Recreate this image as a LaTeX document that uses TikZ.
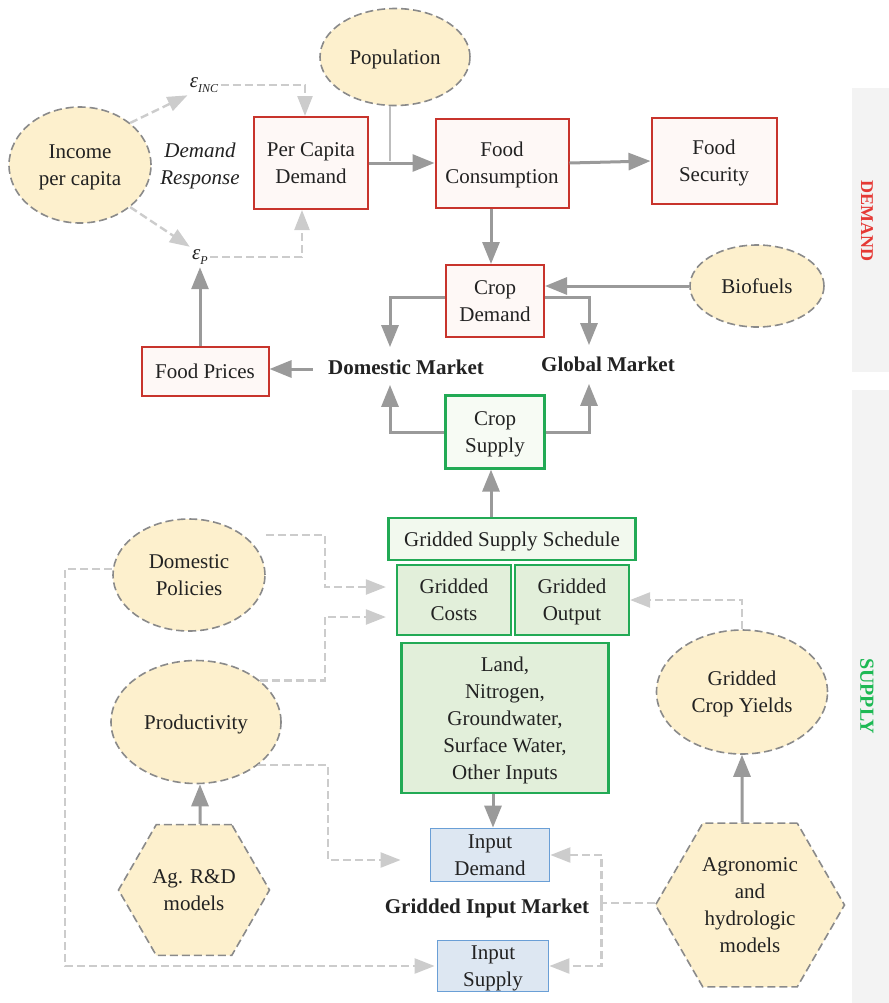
\documentclass[tikz,border=0pt]{standalone}
\usepackage{fontspec}
\setmainfont{Liberation Serif}
\usetikzlibrary{shapes.geometric,arrows.meta,calc}
\definecolor{cream}{HTML}{FDF0CD}
\definecolor{dashgray}{HTML}{8A8A8A}
\definecolor{boxred}{HTML}{C8342C}
\definecolor{redfill}{HTML}{FEF8F6}
\definecolor{boxgreen}{HTML}{22AA55}
\definecolor{gfillA}{HTML}{F7FBF4}
\definecolor{gfillB}{HTML}{F2F9EE}
\definecolor{gfillC}{HTML}{E2EFDA}
\definecolor{boxblue}{HTML}{6A9FD6}
\definecolor{bluefill}{HTML}{DDE7F2}
\definecolor{darkarr}{HTML}{9A9A9A}
\definecolor{lightarr}{HTML}{CCCCCC}
\definecolor{panelgray}{HTML}{F3F3F3}
\definecolor{demred}{HTML}{E53935}
\definecolor{supgreen}{HTML}{1DB954}
\definecolor{txt}{HTML}{222222}
\tikzset{
  lowtext/.style={text depth=-1pt},
  ell/.style={ellipse, draw=dashgray, dash pattern=on 4pt off 2pt, fill=cream, line width=0.8pt, inner sep=0pt, align=center, lowtext},
  hexa/.style={regular polygon, regular polygon sides=6, draw=dashgray, dash pattern=on 4pt off 2pt, fill=cream, line width=0.8pt, inner sep=0pt, align=center, lowtext},
  redbox/.style={rectangle, draw=boxred, fill=redfill, line width=1pt, inner sep=0pt, align=center, lowtext},
  greenbox/.style={rectangle, draw=boxgreen, line width=1.1pt, inner sep=0pt, align=center, lowtext},
  bluebox/.style={rectangle, draw=boxblue, fill=bluefill, line width=0.9pt, inner sep=0pt, align=center, lowtext},
  lbl/.style={inner sep=1pt, text height=7.5pt, text depth=2pt},
  darr/.style={draw=darkarr, line width=1.5pt, -{Triangle[length=11pt,width=8.5pt]}},
  larr/.style={draw=lightarr, line width=1.2pt, dash pattern=on 4pt off 2pt, -{Triangle[length=10pt,width=7.5pt]}},
  lline/.style={draw=lightarr, line width=1.2pt, dash pattern=on 4pt off 2pt},
  popline/.style={draw=lightarr!80!gray, line width=0.8pt},
}
\begin{document}
\begin{tikzpicture}[x=0.5pt,y=-0.5pt, font=\fontsize{10.5}{13.5}\selectfont, text=txt]
\useasboundingbox (0,0) rectangle (889,1003);
% side panels
\fill[panelgray] (852,88) rectangle (889,372);
\fill[panelgray] (852,390) rectangle (889,1003);
\node[rotate=-90, font=\bfseries\fontsize{9}{9}\selectfont, text=demred] (demlab) at (867,221) {DEMAND};
\node[rotate=-90, font=\bfseries\fontsize{10}{10}\selectfont, text=supgreen] (suplab) at (867,696) {SUPPLY};

% demand side nodes
\node[ell, minimum width=71pt, minimum height=58pt] (Inc) at (80,165) {Income\\per capita};
\node[ell, minimum width=75pt, minimum height=48.5pt] (Pop) at (395,57) {Population};
\node[ell, minimum width=67pt, minimum height=41pt] (Bio) at (757,286) {Biofuels};
\node[inner sep=1pt] (eINC) at (204,85) {\itshape ε\raisebox{-0.6ex}{\fontsize{6}{6}\selectfont INC}};
\node[inner sep=1pt] (eP) at (200,257) {\itshape ε\raisebox{-0.6ex}{\fontsize{6}{6}\selectfont P}};
\node[align=center, lowtext, font=\itshape\fontsize{10.5}{13.5}\selectfont] (DR) at (200,164) {Demand\\Response};
\node[redbox, minimum width=57pt, minimum height=46pt] (PCD) at (311,163) {Per Capita\\Demand};
\node[redbox, minimum width=66.5pt, minimum height=44.5pt] (FC) at (502,163) {Food\\Consumption};
\node[redbox, minimum width=62.5pt, minimum height=43pt] (FS) at (714,161) {Food\\Security};
\node[redbox, minimum width=49pt, minimum height=36pt] (CD) at (495,301) {Crop\\Demand};
\node[redbox, minimum width=63.5pt, minimum height=24.5pt] (FP) at (205,371) {Food Prices};
\node[lbl, font=\bfseries\fontsize{10.5}{13.5}\selectfont] (DM) at (406,369) {Domestic Market};
\node[lbl, font=\bfseries\fontsize{10.5}{13.5}\selectfont] (GM) at (608,366) {Global Market};

% supply side nodes
\node[greenbox, fill=gfillA, minimum width=49.5pt, minimum height=36.5pt] (CS) at (495,432) {Crop\\Supply};
\node[greenbox, fill=gfillB, minimum width=123.5pt, minimum height=21pt] (GSS) at (512,539) {Gridded Supply Schedule};
\node[greenbox, fill=gfillC, minimum width=57pt, minimum height=35pt] (GC) at (454,600) {Gridded\\Costs};
\node[greenbox, fill=gfillC, minimum width=57pt, minimum height=35pt] (GO) at (572,600) {Gridded\\Output};
\node[greenbox, fill=gfillC, minimum width=103.5pt, minimum height=75pt] (Land) at (505,718) {Land,\\Nitrogen,\\Groundwater,\\Surface Water,\\Other Inputs};
\node[ell, minimum width=76pt, minimum height=56pt] (DP) at (189,575) {Domestic\\Policies};
\node[ell, minimum width=85pt, minimum height=61.5pt] (Prod) at (196,722) {Productivity};
\node[ell, minimum width=85.5pt, minimum height=62pt] (GCY) at (742,692) {Gridded\\Crop Yields};
\node[hexa, minimum size=75.5pt] (AgRD) at (194,890) {Ag. R\&D\\models};
\node[hexa, minimum size=94.5pt] (Agro) at (750,905) {Agronomic\\and\\hydrologic\\models};
\node[bluebox, minimum width=59.5pt, minimum height=26.5pt] (ID) at (490,855) {Input\\Demand};
\node[bluebox, minimum width=55.5pt, minimum height=25.5pt] (IS) at (493,966) {Input\\Supply};
\node[lbl, font=\bfseries\fontsize{10.5}{13.5}\selectfont] (GIM) at (487,908) {Gridded Input Market};

% demand connectors
\draw[darr] (PCD.east) -- (FC.west);
\draw[popline] ($(Pop.south)+(-5,0)$) -- ++(0,55);
\draw[darr] (FC.east) -- (FS.west);
\draw[darr] ($(FC.south)+(-11,0)$) -- ($(CD.north)+(-4,0)$);
\draw[darr] (Bio.west) -- (Bio.west -| CD.east);
\draw[darr] ($(CD.west)+(0,-4)$) -| ([xshift=-8pt,yshift=5pt]DM.north);
\draw[darr] ($(CD.east)+(0,-4)$) -| ([xshift=-9.5pt,yshift=4.5pt]GM.north);
\draw[darr] ([xshift=-6.5pt]DM.west) -- (DM.west -| FP.east);
\draw[darr] (FP.north -| eP.south) -- (eP.south);
\draw[darr] (CS.west) -| ([xshift=-8pt,yshift=-2pt]DM.south);
\draw[darr] (CS.east) -| ([xshift=-9.5pt,yshift=-3pt]GM.south);
\draw[larr] (Inc.40) -- (eINC.south west);
\draw[larr] (eINC.east) -| ($(PCD.north)+(-6,0)$);
\draw[larr] (Inc.-40) -- (eP.north west);
\draw[larr] (eP.east) -| ($(PCD.south)+(-9,0)$);

% supply connectors
\draw[darr] ($(GSS.north)+(-21,0)$) -- ($(CS.south)+(-4,0)$);
\draw[darr] ($(Land.south)+(-12,0)$) -- ($(ID.north)+(3,0)$);
\draw[darr] ($(AgRD.north)+(6,0)$) -- ($(Prod.south)+(4,0)$);
\draw[darr] ($(Agro.north)+(-8,0)$) -- (GCY.south);
\draw[larr] ([yshift=20pt]DP.east) -- ++(59,0) |- ([xshift=-5pt,yshift=6.5pt]GC.west);
\draw[larr] (Prod.33) -- ++(65,0) |- ([xshift=-5pt,yshift=-8.5pt]GC.west);
\draw[larr] ([yshift=3pt]DP.west) -- ++(-47,0) |- ([xshift=-1pt]IS.west);
\draw[larr] (Prod.-35) -- ++(70,0) |- ([xshift=-14.5pt,yshift=-2.5pt]ID.west);
\draw[larr] (GCY.north) |- (GO.east);
\coordinate (jn) at ($(Agro.west)+(-53,-2)$);
\draw[lline] ([yshift=1pt]Agro.west) -- (jn);
\draw[larr] (jn) |- (ID.east);
\draw[larr] (jn) |- (IS.east);
\end{tikzpicture}
\end{document}
